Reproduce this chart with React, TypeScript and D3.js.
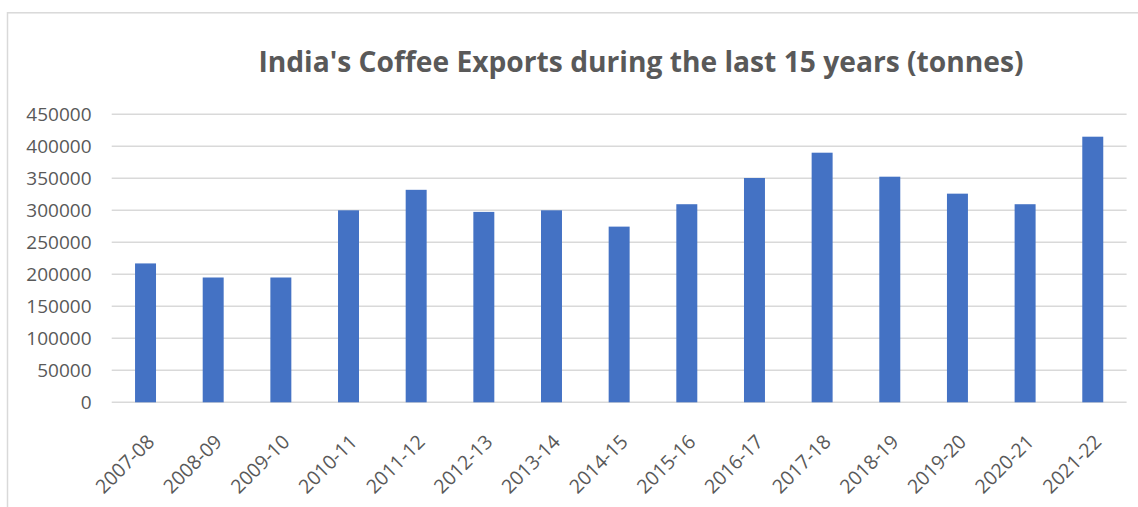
import React from "react";
import * as d3 from "d3";

const categories = ["2007-08","2008-09","2009-10","2010-11","2011-12","2012-13","2013-14","2014-15","2015-16","2016-17","2017-18","2018-19","2019-20","2020-21","2021-22"];
const exportsTonnes = [217000,195000,195000,300000,332000,297500,300000,274500,309500,350500,390000,352500,326000,309500,415000];
const yTicks = [0,50000,100000,150000,200000,250000,300000,350000,400000,450000];
const title = "India's Coffee Exports during the last 15 years (tonnes)";

const W = 1138, H = 507;
const plot = { left: 111.7, right: 1126.6, top: 114.3, bottom: 402.3 };
const FONT = "'Open Sans', 'Noto Sans', sans-serif";
const TEXT = "#595959";
const GRID = "#d9d9d9";
const BAR = "#4472C4";

export default function App() {
  const x = d3.scaleBand<string>().domain(categories).range([plot.left, plot.right]).paddingInner(0.69).paddingOuter(0.345);
  const y = d3.scaleLinear().domain([0, 450000]).range([plot.bottom, plot.top]);
  return (
    <svg width={W} height={H} style={{ position: "absolute", left: 0, top: 0, background: "#fff" }}>
      <rect x={0} y={0} width={W} height={H} fill="#fff" />
      <rect x={7.5} y={12.8} width={1300} height={700} fill="none" stroke={GRID} strokeWidth={1.5} />
      <text x={641} y={72} textAnchor="middle" fontFamily={FONT} fontWeight={700} fontSize={28.2} fill={TEXT}>{title}</text>
      {yTicks.map((t) => (
        <g key={t}>
          <line x1={plot.left} x2={plot.right} y1={y(t)} y2={y(t)} stroke={GRID} strokeWidth={1.4} />
          <text x={91.5} y={y(t)} dy="0.36em" textAnchor="end" fontFamily={FONT} fontWeight={500} fontSize={19} fill={TEXT}>{t}</text>
        </g>
      ))}
      {categories.map((c, i) => (
        <rect key={c} x={x(c)} y={y(exportsTonnes[i])} width={x.bandwidth()} height={y(0) - y(exportsTonnes[i])} fill={BAR} />
      ))}
      {categories.map((c) => {
        const cx = (x(c) as number) + x.bandwidth() / 2;
        const ax = cx + 10, ay = 443;
        return (
          <text key={c} x={ax} y={ay} transform={`rotate(-45 ${ax} ${ay})`} textAnchor="end" fontFamily={FONT} fontWeight={500} fontSize={19.5} fill={TEXT}>{c}</text>
        );
      })}
    </svg>
  );
}
